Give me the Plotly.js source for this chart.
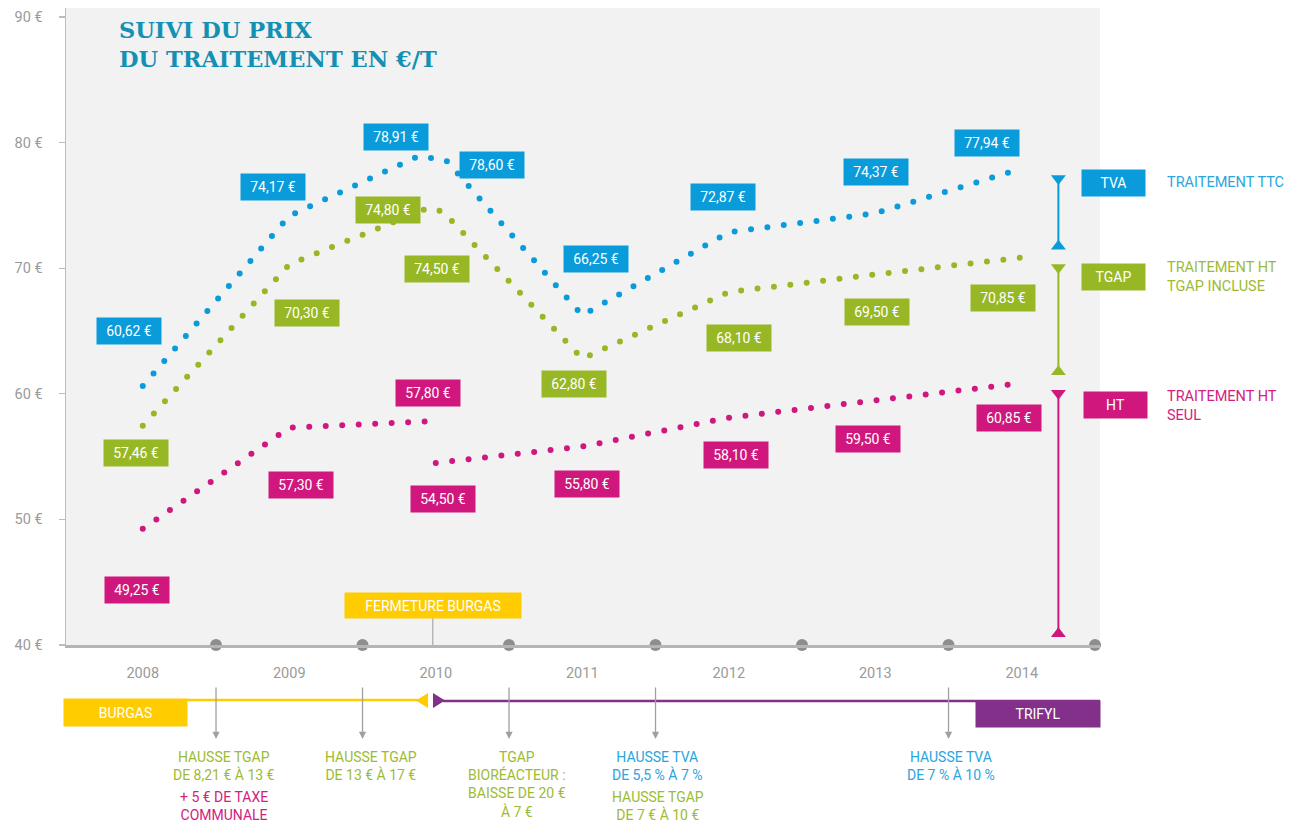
<!DOCTYPE html>
<html><head><meta charset="utf-8">
<script src="https://cdn.plot.ly/plotly-3.0.1.min.js"></script>
<style>
html,body{margin:0;padding:0;background:#fff;}
#chart{width:1295px;height:824px;}
.scatterlayer .js-line{stroke-linecap:round !important;}
</style></head><body><div id="chart"></div>
<script>
// ---------- DATA ----------
const years = [2008, 2009, 2010, 2011, 2012, 2013, 2014];
const yearLabels = ['2008', '2009', '2010', '2011', '2012', '2013', '2014'];
const yTicks = [40, 50, 60, 70, 80, 90];

// Traitement TTC (blue)
const ttcX = [2008, 2009, 2009.88, 2010.07, 2011, 2012, 2013, 2014];
const ttcY = [60.62, 74.17, 78.91, 78.60, 66.25, 72.87, 74.37, 77.94];
// Traitement HT TGAP incluse (green)
const tgapX = [2008, 2009, 2009.95, 2010.05, 2011, 2012, 2013, 2014];
const tgapY = [57.46, 70.30, 74.80, 74.50, 62.80, 68.10, 69.50, 70.85];
// Traitement HT seul (pink) - break between 2009 end and 2010 start
const htX = [2008, 2009, 2009.93, 2010.0, 2011, 2012, 2013, 2014];
const htY = [49.25, 57.30, 57.80, 54.50, 55.80, 58.10, 59.50, 60.85];
const htBreak = 3;

const closureX = 2009.98; // fermeture Burgas
const eventX = [2008.5, 2009.5, 2010.5, 2011.5, 2013.5];
const eventText1 = ['HAUSSE TGAP<br>DE 8,21 € À 13 €', 'HAUSSE TGAP<br>DE 13 € À 17 €',
  'TGAP<br>BIORÉACTEUR :<br>BAISSE DE 20 €<br>À 7 €', 'HAUSSE TVA<br>DE 5,5 % À 7 %', 'HAUSSE TVA<br>DE 7 % À 10 %'];
const eventKind1 = ['tgap', 'tgap', 'tgap', 'tva', 'tva'];
const eventText2 = ['+ 5 € DE TAXE<br>COMMUNALE', '', '', 'HAUSSE TGAP<br>DE 7 € À 10 €', ''];
const eventKind2 = ['ht', '', '', 'tgap', ''];

// ---------- STYLE ----------
const C = {tva:'#0a9bdb', tgap:'#97b824', ht:'#cf177e',
  tvaText:'#2aa5de', tgapText:'#9dbb32', htText:'#d3207f',
  yellow:'#ffcc00', purple:'#82308a', gray:'#8e8e8e', axis:'#bdbdbd', tick:'#9a9a9a'};
const FONT = 'Roboto, sans-serif';
const L = 66, T = 8, W = 1034, H = 637;
const PX = p => (p - L) / W;
const PY = p => (T + H - p) / H;

const ttcOff = [[-14,-55.5],[-16,-29],[-22,-19],[46,5],[14,-56],[-6,-35],[1,-41],[-35,-25.5]];
const tgapOff = [[-7,27],[18,49],[-40,2.5],[-6,57],[-8,25],[10,46],[2,38],[-19,40]];
const htOff = [[-6,61],[12,57],[2,-28],[7,36],[5,37],[7,37],[-7,39],[-13,35]];

function dotted(x, y, color) {
  return {x, y, type:'scatter', mode:'lines', hoverinfo:'skip', cliponaxis:false,
    line:{color, width:6, dash:'0px,16.5px'}};
}
const fmt = v => v.toFixed(2).replace('.', ',') + ' €';

const traces = [
  dotted(ttcX, ttcY, C.tva),
  dotted(tgapX, tgapY, C.tgap),
  dotted(htX.slice(0, htBreak), htY.slice(0, htBreak), C.ht),
  dotted(htX.slice(htBreak), htY.slice(htBreak), C.ht),
  // axis boundary dots
  {x: years.map(y => y + 0.5), y: years.map(() => 40), type:'scatter', mode:'markers',
   cliponaxis:false, hoverinfo:'skip', marker:{color:C.gray, size:12}}
];

// 2014 decomposition markers
const lastT = ttcY[ttcY.length-1], lastG = tgapY[tgapY.length-1], lastH = htY[htY.length-1];
const segX = 2014.25;
[[lastT, lastG, C.tva], [lastG, lastH, C.tgap], [lastH, yTicks[0], C.ht]].forEach(([hi, lo, col]) => {
  traces.push({x:[segX, segX], y:[hi - 0.8, lo + 0.9], type:'scatter', mode:'lines+markers',
    cliponaxis:false, hoverinfo:'skip', line:{color:col, width:2},
    marker:{symbol:['triangle-down','triangle-up'], size:13, color:col}});
});

const annotations = [];
function valLabels(xs, ys, offs, col) {
  xs.forEach((x, i) => {
    annotations.push({x, y:ys[i], xref:'x', yref:'y', text:fmt(ys[i]), showarrow:false,
      xanchor:'center', yanchor:'middle',
      xshift:offs[i][0], yshift:-offs[i][1], bgcolor:col, borderpad:4, width:56, height:18,
      font:{family:FONT, size:14, color:'#fff'}});
  });
}
valLabels(ttcX, ttcY, ttcOff, C.tva);
valLabels(tgapX, tgapY, tgapOff, C.tgap);
valLabels(htX, htY, htOff, C.ht);

// title
annotations.push({xref:'paper', yref:'paper', x:PX(117), y:PY(15), xanchor:'left', yanchor:'top', align:'left',
  text:'SUIVI DU PRIX<br>DU TRAITEMENT EN €/T', showarrow:false,
  font:{family:'DejaVu Serif, serif', size:22.5, weight:'bold', color:'#1291b4'}});

// boxes
function box(px, py, w, h, text, col, size) {
  annotations.push({xref:'paper', yref:'paper', x:PX(px), y:PY(py), xanchor:'center', yanchor:'middle',
    text, showarrow:false, bgcolor:col, borderpad:4, width:w - 8, height:h - 8,
    font:{family:FONT, size:size || 14, color:'#fff'}});
}
box(1113.5, 183, 63, 26, 'TVA', C.tva);
box(1113.5, 276.5, 63, 26, 'TGAP', C.tgap);
box(1115, 404.5, 63, 26, 'HT', C.ht);
function rtext(py, text, col) {
  annotations.push({xref:'paper', yref:'paper', x:PX(1165), y:PY(py), xanchor:'left', yanchor:'middle', align:'left',
    text, showarrow:false, font:{family:FONT, size:14.5, color:col}});
}
rtext(182, 'TRAITEMENT TTC', C.tvaText);
rtext(277, 'TRAITEMENT HT<br>TGAP INCLUSE', C.tgapText);
rtext(406, 'TRAITEMENT HT<br>SEUL', C.htText);

// fermeture burgas
annotations.push({xref:'x', yref:'paper', x:closureX, y:PY(605.5), xanchor:'center', yanchor:'middle',
  text:'FERMETURE BURGAS', showarrow:false,
  bgcolor:C.yellow, borderpad:4, width:168, height:17, font:{family:FONT, size:14, color:'#fff'}});
box(125.5, 712.5, 123, 27, 'BURGAS', C.yellow);
box(1038, 714, 124, 26, 'TRIFYL', C.purple);

// events
const kindCol = {tva:C.tvaText, tgap:C.tgapText, ht:C.htText};
eventX.forEach((x, i) => {
  annotations.push({xref:'x', yref:'paper', x, y:PY(739), ax:0, ay:-53, text:'', showarrow:true,
    arrowhead:2, arrowsize:1.1, arrowwidth:1.3, arrowcolor:'#a0a0a0'});
  annotations.push({xref:'x', yref:'paper', x, y:PY(747), xshift: i < 3 ? 8 : 2, xanchor:'center', yanchor:'top',
    text:eventText1[i], showarrow:false, font:{family:FONT, size:14, color:kindCol[eventKind1[i]]}});
  if (eventText2[i]) {
    annotations.push({xref:'x', yref:'paper', x, y:PY(787), xshift: i < 3 ? 8 : 2, xanchor:'center', yanchor:'top',
      text:eventText2[i], showarrow:false, font:{family:FONT, size:14, color:kindCol[eventKind2[i]]}});
  }
});

const shapes = [
  {type:'line', xref:'x', yref:'paper', x0:closureX, x1:closureX, y0:0, y1:PY(618), line:{color:'#9a9a9a', width:1}},
  {type:'line', xref:'paper', yref:'paper', x0:PX(187), x1:PX(418), y0:PY(700), y1:PY(700), line:{color:C.yellow, width:2.5}},
  {type:'path', xref:'paper', yref:'paper', fillcolor:C.yellow, line:{width:0},
   path:`M ${PX(416)},${PY(700.5)} L ${PX(428)},${PY(693)} L ${PX(428)},${PY(708)} Z`},
  {type:'path', xref:'paper', yref:'paper', fillcolor:C.purple, line:{width:0},
   path:`M ${PX(445)},${PY(700.5)} L ${PX(433)},${PY(693)} L ${PX(433)},${PY(708)} Z`},
  {type:'line', xref:'paper', yref:'paper', x0:PX(443), x1:PX(1100), y0:PY(701), y1:PY(701), line:{color:C.purple, width:2.5}}
];

const layout = {
  width:1295, height:824, margin:{l:L, r:1295 - L - W, t:T, b:824 - T - H},
  paper_bgcolor:'#fff', plot_bgcolor:'#f2f2f2', showlegend:false, hovermode:false,
  xaxis:{range:[2007.476, 2014.534], tickvals:years, ticktext:yearLabels, ticks:'', showgrid:false, zeroline:false,
    showline:true, linecolor:'#b5b5b5', linewidth:2.5, ticklabelstandoff:13,
    tickfont:{family:FONT, size:14.5, color:C.tick}},
  yaxis:{range:[40, 90.717], tickvals:yTicks, ticktext:yTicks.map(v => v + ' €'), ticks:'outside', ticklen:6,
    tickcolor:C.axis, tickwidth:1.2, showgrid:false, zeroline:false, showline:true, linecolor:C.axis, linewidth:1.5,
    ticklabelstandoff:13, tickfont:{family:FONT, size:14.5, color:C.tick}},
  annotations, shapes
};
Plotly.newPlot('chart', traces, layout, {displayModeBar:false, staticPlot:true});
</script></body></html>
